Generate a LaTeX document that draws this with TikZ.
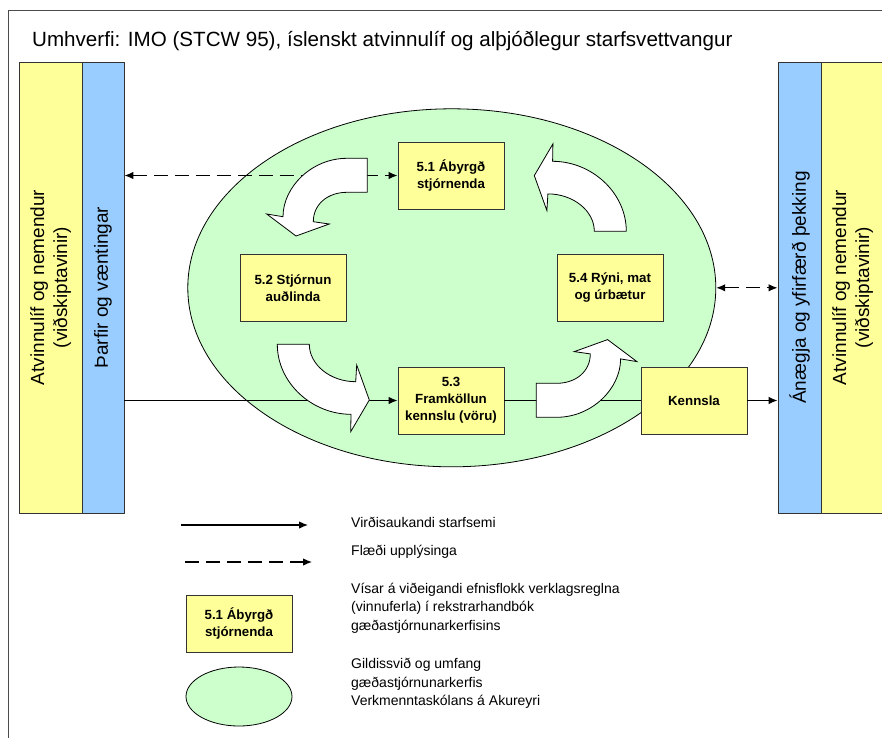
\documentclass[tikz,border=0pt]{standalone}
\usepackage{fontspec}
\setmainfont{Liberation Sans}
\usetikzlibrary{arrows.meta,shapes.geometric}
\definecolor{ylw}{HTML}{FFFF99}
\definecolor{blu}{HTML}{99CCFF}
\definecolor{grn}{HTML}{CCFFCC}
\definecolor{edgec}{HTML}{333333}
\begin{document}
\begin{tikzpicture}[x=1pt,y=-1pt,
  bandbox/.style={draw=edgec,line width=0.9pt,minimum width=#1,minimum height=451pt,inner sep=0pt},
  bandtxt/.style={rotate=90,align=center,inner sep=0pt,font=\fontsize{19}{23}\selectfont},
  proc/.style={draw=edgec,line width=0.9pt,fill=ylw,minimum width=106pt,minimum height=67pt,inner sep=0pt,align=center,font=\fontsize{13.3}{17}\selectfont\bfseries},
  flowline/.style={line width=1.2pt,-{Latex[length=9pt,width=7.5pt]}},
  infoline/.style={line width=1.2pt,dash pattern=on 14pt off 7pt,{Latex[length=9pt,width=7.5pt]}-{Latex[length=9pt,width=7.5pt]}},
  legtxt/.style={anchor=west,align=left,inner sep=0pt,font=\fontsize{14}{18.5}\selectfont},
  bigarrow/.style={draw=black,fill=white,line width=0.8pt,line join=miter}
]
\useasboundingbox (0,0) rectangle (882,737);
% outer frame
\draw[draw=black!70,line width=1pt] (8,745) -- (8,10) -- (890,10);
% title
\node[anchor=base west,inner sep=0pt,font=\fontsize{20.6}{24}\selectfont] (title) at (32,46) {Umhverfi: IMO (STCW 95), íslenskt atvinnulíf og alþjóðlegur starfsvettvangur};
% scope ellipse
\node[ellipse,draw=black,line width=0.8pt,fill=grn,minimum width=528pt,minimum height=358pt,inner sep=0pt] (ell) at (451.8,287.8) {};
% side bands
\node[bandbox=63pt,fill=ylw] (lyel) at (50.5,287.5) {};
\node[bandbox=42pt,fill=blu] (lblu) at (103,287.5) {};
\node[bandbox=43pt,fill=blu] (rblu) at (799.5,287.5) {};
\node[bandbox=63pt,fill=ylw] (ryel) at (852.5,287.5) {};
\node[bandtxt] (lyeltxt) at (lyel.center) {Atvinnulíf og nemendur\\(viðskiptavinir)};
\node[bandtxt] (lblutxt) at (lblu.center) {Þarfir og væntingar};
\node[bandtxt] (rblutxt) at (rblu.center) {Ánægja og yfirfærð þekking};
\node[bandtxt] (ryeltxt) at (ryel.center) {Atvinnulíf og nemendur\\(viðskiptavinir)};
% process boxes
\node[proc] (b51) at (451,175.5) {5.1 Ábyrgð\\stjórnenda};
\node[proc] (b52) at (293,288) {5.2 Stjórnun\\auðlinda};
\node[proc] (b53) at (451,400.5) {5.3\\Framköllun\\kennslu (vöru)};
\node[proc] (b54) at (610,288) {5.4 Rýni, mat\\og úrbætur};
\node[proc] (ken) at (694,400.5) {Kennsla};
% connectors
\draw[infoline] (lblu.east |- b51.west) -- (b51.west);
\draw[infoline] (ell.east) -- (rblu.west |- ell.east);
\draw[flowline] (lblu.east |- b53.west) -- (b53.west);
\draw[line width=1.2pt] (b53.east) -- (ken.west);
\draw[flowline] (ken.east) -- (rblu.west |- ken.east);
% curved block arrows
\draw[bigarrow] (367.3,158.3) -- (347,158.3) .. controls (311.7,158.3) and (283,187) .. (283,216.7) -- (266.7,214) -- (296,236) -- (329.3,224) -- (313.3,221.7) .. controls (313.3,204) and (328,192.3) .. (347,192.3) -- (367.3,192.3) -- cycle;
\draw[bigarrow] (277.3,344.3) .. controls (277.3,383) and (312,414.3) .. (351,414.3) -- (350.7,431.7) -- (369.3,400) -- (356.7,365) -- (355.7,381.7) .. controls (330.3,381.7) and (309.3,364.7) .. (309.3,344.3) -- cycle;
\begin{scope}[rotate around={180:(451.8,287.8)}]
\draw[bigarrow] (367.3,158.3) -- (347,158.3) .. controls (311.7,158.3) and (283,187) .. (283,216.7) -- (266.7,214) -- (296,236) -- (329.3,224) -- (313.3,221.7) .. controls (313.3,204) and (328,192.3) .. (347,192.3) -- (367.3,192.3) -- cycle;
\draw[bigarrow] (277.3,344.3) .. controls (277.3,383) and (312,414.3) .. (351,414.3) -- (350.7,431.7) -- (369.3,400) -- (356.7,365) -- (355.7,381.7) .. controls (330.3,381.7) and (309.3,364.7) .. (309.3,344.3) -- cycle;
\end{scope}
% legend
\coordinate (ls1) at (181,525);
\coordinate (le1) at (308,525);
\coordinate (ls2) at (185,562);
\coordinate (le2) at (312,562);
\draw[flowline] (ls1) -- (le1);
\draw[line width=1.2pt,dash pattern=on 14pt off 7pt,-{Latex[length=9pt,width=7.5pt]}] (ls2) -- (le2);
\node[proc,minimum height=57pt] (legbox) at (239,623.5) {5.1 Ábyrgð\\stjórnenda};
\node[ellipse,draw=black,line width=0.8pt,fill=grn,minimum width=106pt,minimum height=59pt,inner sep=0pt] (legell) at (239,696.5) {};
\node[legtxt] (t1) at (351,522) {Virðisaukandi starfsemi};
\node[legtxt] (t2) at (351,552) {Flæði upplýsinga};
\node[legtxt] (t3) at (351,608) {Vísar á viðeigandi efnisflokk verklagsreglna\\(vinnuferla) í rekstrarhandbók\\gæðastjórnunarkerfisins};
\node[legtxt] (t4) at (351,683.5) {Gildissvið og umfang\\gæðastjórnunarkerfis\\Verkmenntaskólans á Akureyri};
\end{tikzpicture}
\end{document}
